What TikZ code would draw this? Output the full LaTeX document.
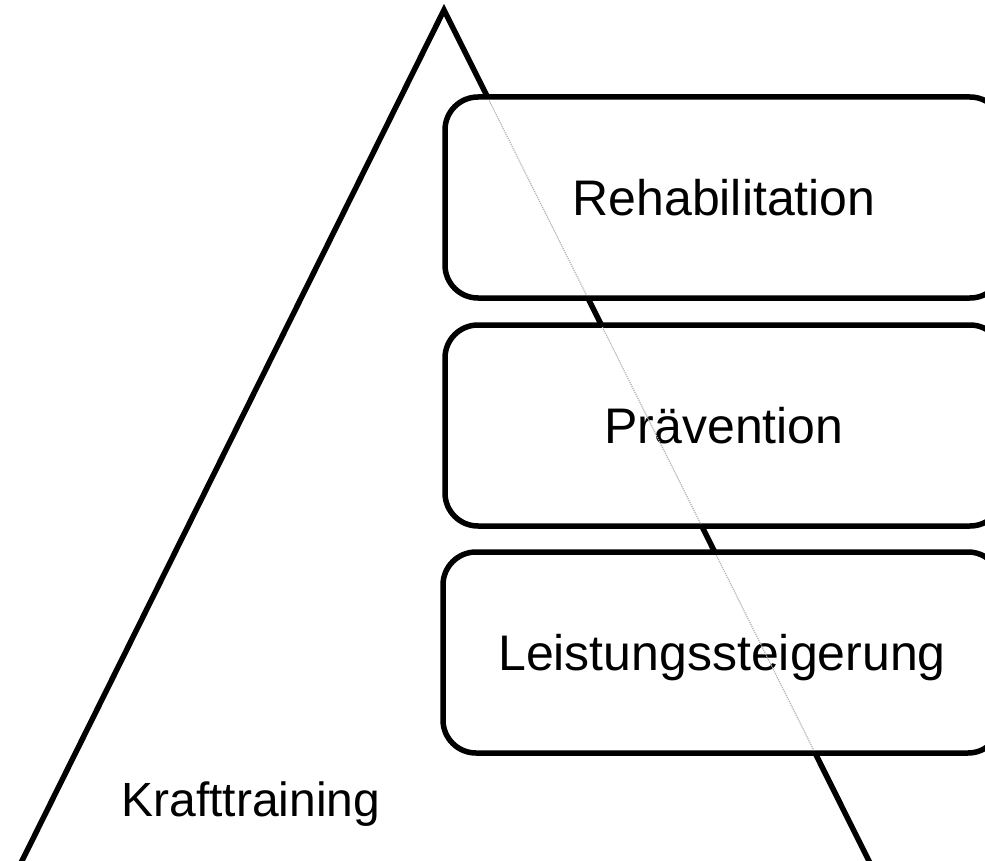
\documentclass[tikz,border=0pt]{standalone}
\usepackage{fontspec}
\setmainfont{Liberation Sans}
\begin{document}
\begin{tikzpicture}[x=1pt,y=-1pt,
  edge/.style={line width=5.5pt, line join=miter, miter limit=10},
  goalbox/.style={draw, line width=5.5pt, rounded corners=33pt, fill=white,
    minimum width=558pt, minimum height=201pt, inner sep=0pt,
    font=\fontsize{50}{58}\selectfont, text height=35.8pt, text depth=0pt},
  lbl/.style={font=\fontsize{48}{56}\selectfont, inner sep=0pt},
  ghost/.style={gray!60, line width=1.2pt, densely dotted}]
\clip (0,0) rectangle (985,861);
\coordinate (apex) at (444,10);
\coordinate (bl) at (12.5,880);
\coordinate (br) at (878.5,880);
\draw[edge] (bl) -- (apex) -- (br);
\node[goalbox] (reha) at (724,197.5) {Rehabilitation};
\node[goalbox] (prae) at (724,425.5) {Prävention};
\node[goalbox] (leist) at (722,652.5) {Leistungssteigerung};
\node[lbl, anchor=base] (kraft) at (251,816) {Krafttraining};
\begin{scope}
  \clip (448,100) rectangle (985,295)
        (448,327) rectangle (985,524)
        (448,555) rectangle (985,750);
  \draw[ghost] (apex) -- (br);
\end{scope}
\end{tikzpicture}
\end{document}
